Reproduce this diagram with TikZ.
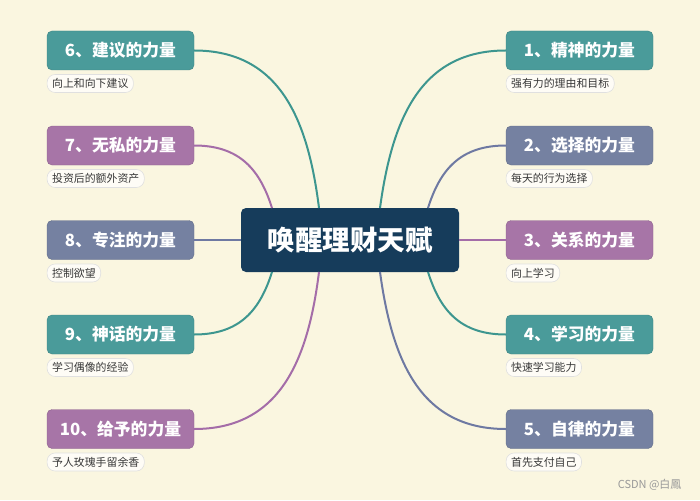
\documentclass[tikz,border=0pt]{standalone}
\usepackage{fontspec}
\setmainfont{Noto Sans CJK SC}
\usepackage{xcolor}
\usetikzlibrary{positioning}

\definecolor{bgcream}{HTML}{FAF6E0}
\definecolor{rootblue}{HTML}{163C5B}
\definecolor{tealbox}{HTML}{4A9B9A}
\definecolor{plumbox}{HTML}{A775A7}
\definecolor{slatebox}{HTML}{7581A1}
\definecolor{tealline}{HTML}{3D968F}
\definecolor{plumline}{HTML}{A46DA8}
\definecolor{slateline}{HTML}{6E79A2}

\begin{document}
\begin{tikzpicture}[x=1pt,y=-1pt,
        root/.style={fill=rootblue, rounded corners=5pt, minimum width=218pt, minimum height=64pt,
          inner sep=0pt, text=white, font={\fontsize{27.5}{30}\selectfont\bfseries}},
        branch/.style={rounded corners=5pt, minimum width=147pt, minimum height=39pt, inner sep=0pt,
          text=white, font={\fontsize{16.8}{19}\selectfont\bfseries}},
        tealnode/.style={branch, fill=tealbox, draw=tealbox!85!black, line width=0.4pt},
        plumnode/.style={branch, fill=plumbox, draw=plumbox!85!black, line width=0.4pt},
        slatenode/.style={branch, fill=slatebox, draw=slatebox!85!black, line width=0.4pt},
        pill/.style={fill=white!70!bgcream, draw=black!12, line width=0.6pt, rounded corners=8pt,
          minimum height=18pt, inner xsep=5pt, inner ysep=0pt, text=black!78,
          font={\fontsize{10.9}{12}\selectfont}},
        tealedge/.style={line width=2pt, tealline},
        plumedge/.style={line width=2pt, plumline},
        slateedge/.style={line width=2pt, slateline}]
          \useasboundingbox[fill=bgcream] (0,0) rectangle (700,500);

          %draw root
          \node[root] (root) at (350,240) {唤醒理财天赋};

          %draw right branches
          \node[tealnode]  (b1) at (579.5,50.5)  {1、精神的力量};
          \node[slatenode] (b2) at (579.5,145.5) {2、选择的力量};
          \node[plumnode]  (b3) at (579.5,240)   {3、关系的力量};
          \node[tealnode]  (b4) at (579.5,334.5) {4、学习的力量};
          \node[slatenode] (b5) at (579.5,429)   {5、自律的力量};

          %draw left branches
          \node[tealnode]  (b6)  at (120.5,50.5)  {6、建议的力量};
          \node[plumnode]  (b7)  at (120.5,145.5) {7、无私的力量};
          \node[slatenode] (b8)  at (120.5,240)   {8、专注的力量};
          \node[tealnode]  (b9)  at (120.5,334.5) {9、神话的力量};
          \node[plumnode]  (b10) at (120.5,429)   {10、给予的力量};

          %draw notes
          \node[pill, below right=4pt and 0pt of b1.south west]  (n1)  {强有力的理由和目标};
          \node[pill, below right=4pt and 0pt of b2.south west]  (n2)  {每天的行为选择};
          \node[pill, below right=4pt and 0pt of b3.south west]  (n3)  {向上学习};
          \node[pill, below right=4pt and 0pt of b4.south west]  (n4)  {快速学习能力};
          \node[pill, below right=4pt and 0pt of b5.south west]  (n5)  {首先支付自己};
          \node[pill, below right=4pt and 0pt of b6.south west]  (n6)  {向上和向下建议};
          \node[pill, below right=4pt and 0pt of b7.south west]  (n7)  {投资后的额外资产};
          \node[pill, below right=4pt and 0pt of b8.south west]  (n8)  {控制欲望};
          \node[pill, below right=4pt and 0pt of b9.south west]  (n9)  {学习偶像的经验};
          \node[pill, below right=4pt and 0pt of b10.south west] (n10) {予人玫瑰手留余香};

          %draw connectors
          \coordinate (t1) at (380,208);
          \coordinate (t2) at (428,208);
          \coordinate (t6) at (319,208);
          \coordinate (t7) at (272,208);
          \coordinate (d4) at (428,272);
          \coordinate (d5) at (380,272);
          \coordinate (d9) at (272,272);
          \coordinate (d10) at (319,272);

          \draw[tealedge]  (t1) .. controls (392,120) and (420,50.5) .. (b1.west);
          \draw[slateedge] (t2) .. controls (440,170) and (460,145.5) .. (b2.west);
          \draw[plumedge]  (root.east) -- (b3.west);
          \draw[tealedge]  (d4) .. controls (440,310) and (460,334.5) .. (b4.west);
          \draw[slateedge] (d5) .. controls (392,360) and (420,429) .. (b5.west);

          \draw[tealedge]  (t6) .. controls (308,120) and (280,50.5) .. (b6.east);
          \draw[plumedge]  (t7) .. controls (260,170) and (240,145.5) .. (b7.east);
          \draw[slateedge] (root.west) -- (b8.west -| b8.east);
          \draw[tealedge]  (d9) .. controls (260,310) and (240,334.5) .. (b9.east);
          \draw[plumedge]  (d10) .. controls (308,360) and (280,429) .. (b10.east);

          \node[text=black!40, font={\fontsize{11}{13}\selectfont}, anchor=east] (mark) at (685,485) {CSDN @白鳳};
    \end{tikzpicture}
\end{document}
